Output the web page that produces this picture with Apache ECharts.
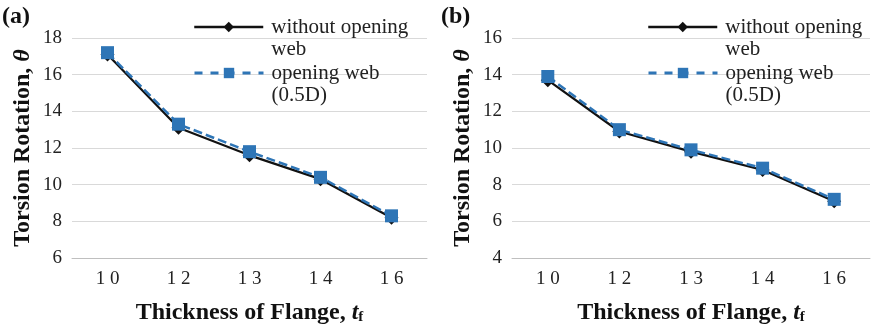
<!DOCTYPE html>
<html>
<head>
<meta charset="utf-8">
<script src="https://cdn.jsdelivr.net/npm/echarts@6/dist/echarts.min.js"></script>
<style>
html,body{margin:0;padding:0;background:#fff;}
#chart{width:871px;height:324px;}
</style>
</head>
<body>
<div id="chart"></div>
<script>
var categories = ['10', '12', '13', '14', '16'];
var aWithout = [17.1, 13.1, 11.6, 10.3, 8.2];
var aOpening = [17.2, 13.3, 11.8, 10.4, 8.3];
var bWithout = [13.7, 10.9, 9.8, 8.8, 7.1];
var bOpening = [13.9, 11.0, 9.9, 8.9, 7.2];
var seriesNames = ['without opening web', 'opening web (0.5D)'];
var legendLabels = ['\nwithout opening\nweb', '\nopening web\n(0.5D)'];
var panelLabels = ['(a)', '(b)'];
var yRanges = [[6, 18], [4, 16]];

var SERIF = '"Liberation Serif", "DejaVu Serif", serif';
var BLUE = '#2e75b6';

var chart = echarts.init(document.getElementById('chart'));

function xAxis(gi) {
  return {
    type: 'category', gridIndex: gi, data: categories, boundaryGap: true,
    axisLine: {show: true, lineStyle: {color: '#bfbfbf', width: 1}},
    axisTick: {show: false},
    axisLabel: {
      color: '#222', fontFamily: SERIF, fontSize: 19, margin: 12,
      formatter: function (v) { return v.split('').join(' '); }
    },
    name: '{b|Thickness of Flange, }{i|t}{s|f}',
    nameLocation: 'middle', nameGap: 42,
    nameTextStyle: {
      rich: {
        b: {fontFamily: SERIF, fontSize: 24, fontWeight: 'bold', color: '#111'},
        i: {fontFamily: SERIF, fontSize: 24, fontWeight: 'bold', fontStyle: 'italic', color: '#111'},
        s: {fontFamily: SERIF, fontSize: 15, fontWeight: 'bold', color: '#111', padding: [10, 0, 0, 0]}
      }
    }
  };
}
function yAxis(gi, r) {
  return {
    type: 'value', gridIndex: gi, min: r[0], max: r[1], interval: 2,
    axisLine: {show: false}, axisTick: {show: false},
    splitLine: {show: true, lineStyle: {color: '#d9d9d9', width: 1}},
    axisLabel: {color: '#222', fontFamily: SERIF, fontSize: 19, margin: 10},
    name: '{b|Torsion Rotation, }{i|θ}',
    nameLocation: 'middle', nameRotate: 90, nameGap: 37,
    nameTextStyle: {
      rich: {
        b: {fontFamily: SERIF, fontSize: 24, fontWeight: 'bold', color: '#111'},
        i: {fontFamily: SERIF, fontSize: 24, fontWeight: 'bold', fontStyle: 'italic', color: '#111'}
      }
    }
  };
}
function lineSeries(name, data, gi, black) {
  return {
    name: name, type: 'line', xAxisIndex: gi, yAxisIndex: gi, data: data,
    symbol: black ? 'diamond' : 'rect', symbolSize: black ? 14 : 13,
    lineStyle: black ? {color: '#111', width: 2.2} : {color: BLUE, width: 2.5, type: [9, 4]},
    itemStyle: {color: black ? '#111' : BLUE},
    z: black ? 2 : 3, animation: false
  };
}
function legend(name, label, left, top, black) {
  return {
    data: [name], left: left, top: top, padding: 0, orient: 'vertical',
    itemWidth: 69, itemHeight: 13, selectedMode: false,
    lineStyle: black ? {width: 2.5, color: '#111', type: 'solid'} : {width: 3, color: BLUE, type: [8, 8], dashOffset: 0},
    formatter: function () { return label; },
    textStyle: {fontFamily: SERIF, fontSize: 21, color: '#222', lineHeight: 22, padding: [0, 0, 0, 3]}
  };
}

var option = {
  animation: false,
  backgroundColor: '#fff',
  grid: [
    {left: 72, right: 444, top: 38, bottom: 66, outerBoundsMode: 'none', containLabel: false},
    {left: 512, right: 1, top: 38, bottom: 66, outerBoundsMode: 'none', containLabel: false}
  ],
  title: [
    {text: panelLabels[0], left: 2, top: 5, padding: 0, textStyle: {fontFamily: SERIF, fontSize: 24, fontWeight: 'bold', color: '#111'}},
    {text: panelLabels[1], left: 441, top: 5, padding: 0, textStyle: {fontFamily: SERIF, fontSize: 24, fontWeight: 'bold', color: '#111'}}
  ],
  legend: [
    legend(seriesNames[0], legendLabels[0], 193, 27 - 33, true),
    legend(seriesNames[1], legendLabels[1], 193, 73 - 33, false),
    legend(seriesNames[0], legendLabels[0], 647, 27 - 33, true),
    legend(seriesNames[1], legendLabels[1], 647, 73 - 33, false)
  ],
  xAxis: [xAxis(0), xAxis(1)],
  yAxis: [yAxis(0, yRanges[0]), yAxis(1, yRanges[1])],
  series: [
    lineSeries(seriesNames[0], aWithout, 0, true),
    lineSeries(seriesNames[1], aOpening, 0, false),
    lineSeries(seriesNames[0], bWithout, 1, true),
    lineSeries(seriesNames[1], bOpening, 1, false)
  ]
};
chart.setOption(option);
</script>
</body>
</html>
